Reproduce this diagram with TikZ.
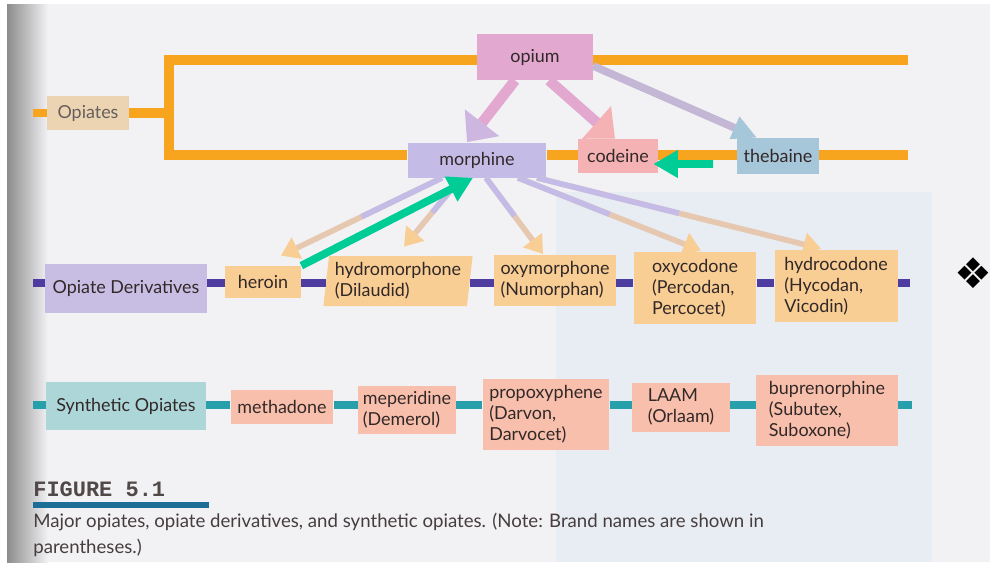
\documentclass[tikz,border=0pt]{standalone}
\usepackage{fontspec}
\setmainfont{Lato}
\newfontfamily\figfont{Liberation Mono}
\newfontfamily\symfont{DejaVu Sans}
\usetikzlibrary{arrows.meta,calc,shapes.geometric,backgrounds}
\definecolor{opiorange}{RGB}{247,164,30}
\definecolor{opiatetan}{RGB}{236,212,178}
\definecolor{opiumpink}{RGB}{226,168,208}
\definecolor{morphlav}{RGB}{196,188,230}
\definecolor{codpink}{RGB}{245,178,180}
\definecolor{thebblue}{RGB}{166,198,218}
\definecolor{derivlav}{RGB}{200,190,228}
\definecolor{derivline}{RGB}{78,60,160}
\definecolor{derivtan}{RGB}{248,206,148}
\definecolor{synteal}{RGB}{172,214,216}
\definecolor{synline}{RGB}{40,160,172}
\definecolor{synsalmon}{RGB}{248,192,172}
\definecolor{markgreen}{RGB}{0,204,150}
\definecolor{capbar}{RGB}{28,110,150}
\definecolor{ink}{RGB}{50,40,40}
\definecolor{pagegray}{RGB}{242,242,245}
\definecolor{panelblue}{RGB}{232,236,243}

\begin{document}
\begin{tikzpicture}[
    x=0.02cm, y=-0.02cm,
    lbl/.style={inner sep=0pt, text=ink, font=\fontsize{10.2}{12}\selectfont, align=left},
    trunk/.style={line width=5.6pt, draw=opiorange, line join=miter},
    rowline/.style={line width=5pt},
    fatarrow/.style={line width=6pt},
    derarrow/.style={line width=3.2pt, draw=morphlav!35!derivtan, -{Triangle[width=13pt, length=10pt, color=derivtan]}},
    greenarrow/.style={line width=4.4pt, draw=markgreen, -{Triangle[width=15pt, length=14pt, color=markgreen]}}
]
\useasboundingbox (0,0) rectangle (990,562);

% opiates
\node[lbl, fill=opiatetan, text=ink!75, minimum width=1.64cm, minimum height=0.68cm] (opiates) at (88,113) {Opiates};
\node[lbl, fill=opiumpink, minimum width=2.32cm, minimum height=0.92cm] (opium) at (535,57) {opium};
\node[lbl, fill=morphlav, minimum width=2.78cm, minimum height=0.7cm] (morphine) at (477,160) {morphine};
\node[lbl, fill=codpink, minimum width=1.6cm, minimum height=0.68cm] (codeine) at (618,156) {codeine};
\node[lbl, fill=thebblue, minimum width=1.64cm, minimum height=0.72cm] (thebaine) at (778,156) {thebaine};

% opiate derivatives
\node[lbl, fill=derivlav, minimum width=3.24cm, minimum height=0.98cm] (deriv) at (126,288) {Opiate Derivatives};
\node[lbl, fill=derivtan, minimum width=1.52cm, minimum height=0.64cm] (heroin) at (263,282) {heroin};
\node[lbl, fill=derivtan, trapezium, trapezium left angle=82, trapezium right angle=98, trapezium stretches=true,
      minimum width=3cm, minimum height=1cm] (hydromorph) at (398,281) {hydromorphone\\(Dilaudid)};
\node[lbl, fill=derivtan, minimum width=2.44cm, minimum height=1.02cm] (oxymorph) at (555,280) {oxymorphone\\(Numorphan)};
\node[lbl, fill=derivtan, minimum width=2.46cm, minimum height=1.44cm] (oxycod) at (695,288) {oxycodone\\(Percodan,\\Percocet)};
\node[lbl, fill=derivtan, minimum width=2.46cm, minimum height=1.44cm] (hydrocod) at (836,286) {hydrocodone\\(Hycodan,\\Vicodin)};

% synthetic opiates
\node[lbl, fill=synteal, minimum width=3.2cm, minimum height=0.96cm] (synth) at (126,406) {Synthetic Opiates};
\node[lbl, fill=synsalmon, minimum width=2.06cm, minimum height=0.68cm] (methadone) at (282,407) {methadone};
\node[lbl, fill=synsalmon, minimum width=1.96cm, minimum height=0.96cm] (meperidine) at (407,410) {meperidine\\(Demerol)};
\node[lbl, fill=synsalmon, minimum width=2.54cm, minimum height=1.42cm] (propoxy) at (546,414) {propoxyphene\\(Darvon,\\Darvocet)};
\node[lbl, fill=synsalmon, minimum width=1.96cm, minimum height=0.98cm] (laam) at (681,407) {LAAM\\(Orlaam)};
\node[lbl, fill=synsalmon, minimum width=2.84cm, minimum height=1.42cm] (bupren) at (827,410) {buprenorphine\\(Subutex,\\Suboxone)};

% orange tree
\coordinate (oStub) at (33,113);
\coordinate (oJoin) at (169,113);
\coordinate (oTop) at (169,60);
\coordinate (oBot) at (169,155);
\coordinate (oTopEnd) at (908,60);
\coordinate (oBotEnd) at (908,155);
\draw[trunk, line width=4pt] (oStub) -- (opiates.west);
\draw[trunk] (opiates.east) -- (oJoin);
\draw[trunk] (opium.west |- oTop) -- (oTop) -- (oBot) -- (morphine.west |- oBot);
\draw[trunk] (opium.east |- oTop) -- (oTopEnd);
\draw[trunk] (morphine.east |- oBot) -- (codeine.west |- oBot);
\draw[trunk] (codeine.east |- oBot) -- (thebaine.west |- oBot);
\draw[trunk] (thebaine.east |- oBot) -- (oBotEnd);

% row lines
\coordinate (dStub) at (33,283);
\coordinate (dEnd) at (910,283);
\draw[rowline, derivline, line width=4pt] (dStub) -- (deriv.west |- dStub);
\foreach \a/\b in {deriv/heroin, heroin/hydromorph, hydromorph/oxymorph, oxymorph/oxycod, oxycod/hydrocod}
  \draw[rowline, derivline] (\a.east |- dStub) -- (\b.west |- dStub);
\draw[rowline, derivline] (hydrocod.east |- dStub) -- (dEnd);

\coordinate (sStub) at (33,405);
\coordinate (sEnd) at (912,405);
\draw[rowline, synline, line width=4pt] (sStub) -- (synth.west |- sStub);
\foreach \a/\b in {synth/methadone, methadone/meperidine, meperidine/propoxy, propoxy/laam, laam/bupren}
  \draw[rowline, synline] (\a.east |- sStub) -- (\b.west |- sStub);
\draw[rowline, synline] (bupren.east |- sStub) -- (sEnd);

% arrows out of opium
\draw[fatarrow, draw=opiumpink, -{Triangle[width=24pt, length=14pt, color=morphlav!70!opiumpink]}]
  ([xshift=-0.4cm]opium.south) -- ([xshift=-0.2cm]morphine.north);
\draw[fatarrow, draw=opiumpink, -{Triangle[width=24pt, length=14pt, color=codpink]}]
  ([xshift=0.28cm]opium.south) -- ([xshift=-0.06cm]codeine.north);
\draw[fatarrow, line width=4.4pt, draw=opiumpink!50!thebblue, -{Triangle[width=13pt, length=14pt, color=thebblue]}]
  ([yshift=-0.18cm]opium.east) -- ([xshift=-0.42cm]thebaine.north);

% arrows out of morphine (lavender fading into tan)
\foreach \tgt/\sx/\ex/\ey in {heroin/-0.7/0.36/0.2, hydromorph/-0.32/0.12/0.18, oxymorph/0.18/-0.24/0, oxycod/0.82/0.12/0.02, hydrocod/1.2/-0.3/0.02} {
  \draw[derarrow] ([xshift=\sx cm]morphine.south) -- ([xshift=\ex cm, yshift=\ey cm]\tgt.north);
  \draw[line width=3.2pt, draw=morphlav] ([xshift=\sx cm]morphine.south)
    -- ($([xshift=\sx cm]morphine.south)!0.5!([xshift=\ex cm, yshift=\ey cm]\tgt.north)$);
}

% green marks
\coordinate (gStart) at (713,164);
\draw[greenarrow] (heroin.north east) -- ([xshift=-0.08cm]morphine.south);
\draw[greenarrow] (gStart) -- ([xshift=-0.1cm, yshift=-0.16cm]codeine.east);

% caption
\node[anchor=west, inner sep=0pt, text=ink!85, font=\figfont\bfseries\fontsize{12.5}{14}\selectfont] (figlabel) at (33,489) {FIGURE 5.1};
\node[anchor=north west, inner sep=0pt, fill=capbar, minimum width=3.52cm, minimum height=0.12cm] (figbar) at (33,502) {};
\node[anchor=base west, lbl, text=ink!90, font=\fontsize{10.6}{12}\selectfont] (caption1) at (33,527) {Major opiates, opiate derivatives, and synthetic opiates. (Note: Brand names are shown in};
\node[anchor=base west, lbl, text=ink!90, font=\fontsize{10.6}{12}\selectfont] (caption2) at (33,553) {parentheses.)};
\node[inner sep=0pt, font=\symfont\fontsize{24}{24}\selectfont] (orn) at (973,273) {❖};

% page
\begin{scope}[on background layer]
  \fill[white] (0,0) rectangle (990,562);
  \fill[pagegray] (7,4) rectangle (990,562);
  \fill[panelblue] (556,192) rectangle (932,562);
  \shade[left color=black!45, right color=pagegray] (7,4) rectangle (48,562);
\end{scope}
\end{tikzpicture}
\end{document}
